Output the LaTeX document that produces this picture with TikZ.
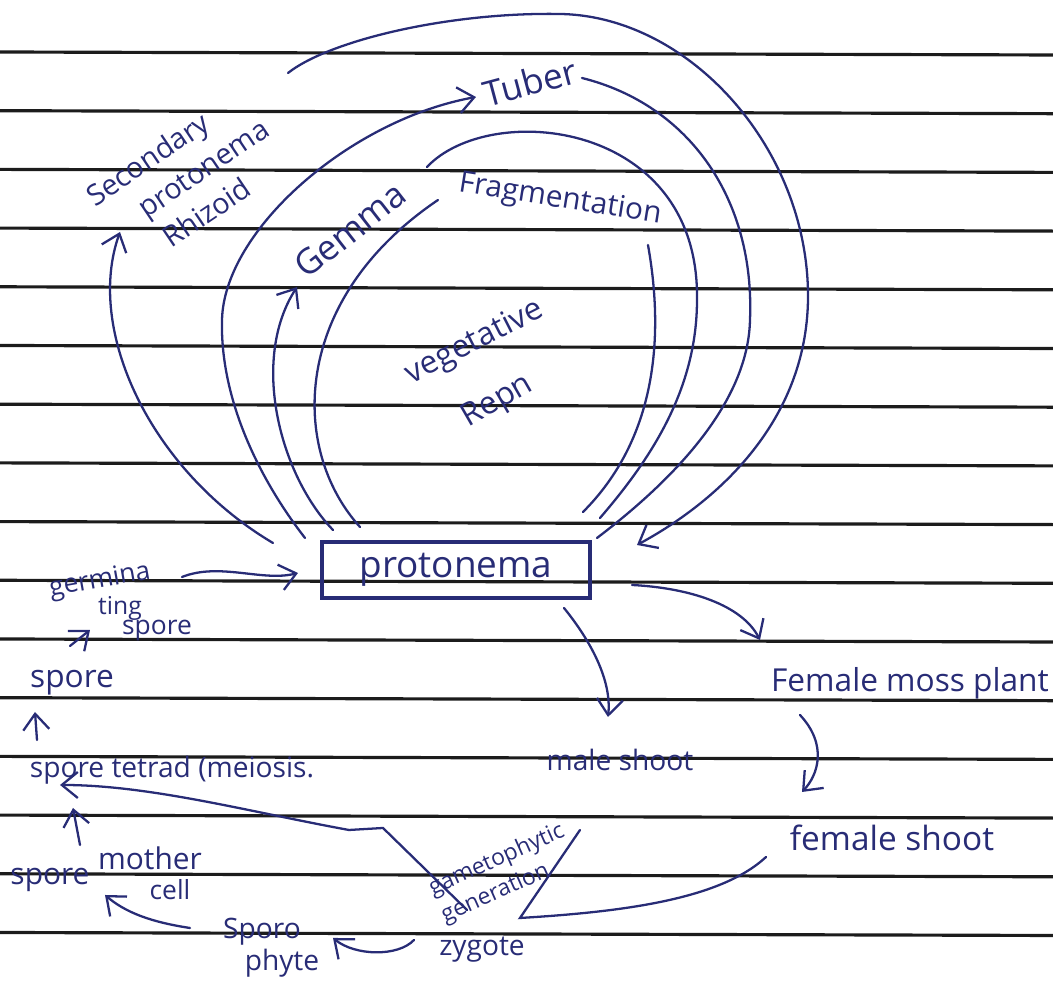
\documentclass[tikz,border=0pt]{standalone}
\usepackage{fontspec}
\setmainfont{Open Sans}
\usepackage{xcolor}
\usetikzlibrary{arrows.meta}
\definecolor{ink}{RGB}{40,44,118}
\definecolor{ruleblk}{RGB}{28,28,28}
\newcommand{\hsz}[1]{\fontsize{#1}{#1}\selectfont}

\begin{document}
\begin{tikzpicture}[x=0.01cm,y=-0.01cm,>={Straight Barb[length=1.6mm,width=2.6mm]},
  pen/.style={ink,line width=0.65pt,line cap=round},
  hw/.style={text=ink,inner sep=0pt}]
  \useasboundingbox (0,0) rectangle (1053,983);
  \foreach \k in {0,...,15}
    \draw[ruleblk,line width=0.9pt] (0,{52+58.7*\k}) -- (1053,{55+58.7*\k});

  \node[hw,draw=ink,line width=0.9pt,minimum width=2.68cm,minimum height=0.56cm] (proto) at (456,570) {\hsz{10.5}protonema};
  \node[hw,rotate=34,align=left,font=\fontsize{8.2}{11}\selectfont] (sec) at (188,178)
    {Secondary\\\hspace*{1.25em}protonema\\\hspace*{1.4em}Rhizoid};
  \node[hw,rotate=15] (tuber) at (530,82) {\hsz{10}Tuber};
  \node[hw,rotate=38] (gemma) at (350,230) {\hsz{10}Gemma};
  \node[hw,rotate=-9] (frag) at (560,200) {\hsz{8.5}Fragmentation};
  \node[hw,rotate=27] (veg) at (475,343) {\hsz{9}vegetative};
  \node[hw,rotate=30] (repn) at (498,402) {\hsz{9}Repn};

  \node[hw,rotate=10] (germa) at (100,581) {\hsz{7.5}germina};
  \node[hw] (germb) at (120,608) {\hsz{7}ting};
  \node[hw] (germc) at (157,630) {\hsz{7.5}spore};
  \node[hw] (spore) at (72,683) {\hsz{9}spore};
  \node[hw] (tetrad) at (172,770) {\hsz{8}spore tetrad (meiosis.};
  \node[hw] (smca) at (50,880) {\hsz{8.5}spore};
  \node[hw] (smcb) at (150,858) {\hsz{8.5}mother};
  \node[hw] (smcc) at (170,890) {\hsz{7.5}cell};
  \node[hw] (sporo) at (262,932) {\hsz{8}Sporo};
  \node[hw] (phyte) at (282,963) {\hsz{8}phyte};
  \node[hw] (zyg) at (482,950) {\hsz{8}zygote};
  \node[hw,rotate=24,align=left,font=\fontsize{6.5}{8.6}\selectfont] (gam) at (503,874)
    {gametophytic\\generation};
  \node[hw] (male) at (620,760) {\hsz{8}male shoot};
  \node[hw] (fmp) at (910,683) {\hsz{9}Female moss plant};
  \node[hw] (fshoot) at (892,838) {\hsz{9.5}female shoot};

  \coordinate (O0) at (288,73);  \coordinate (O1) at (560,14);
  \coordinate (O2) at (808,300); \coordinate (O3) at (637,545);
  \coordinate (T0) at (305,538); \coordinate (T1) at (222,320); \coordinate (T2) at (476,97);
  \coordinate (R0) at (582,78);  \coordinate (R1) at (750,320); \coordinate (R2) at (597,538);
  \coordinate (G0) at (333,530); \coordinate (G1) at (297,287);
  \coordinate (I0) at (427,167); \coordinate (I1) at (697,300); \coordinate (I2) at (600,518);
  \coordinate (F0) at (360,527); \coordinate (F1) at (438,200);
  \coordinate (F2) at (648,245); \coordinate (F3) at (583,512);
  \coordinate (S0) at (273,543); \coordinate (S1) at (120,232);

  \draw[pen,->] (O0) .. controls (330,40) and (450,12) .. (O1)
    .. controls (690,16) and (810,150) .. (O2) .. controls (806,420) and (720,500) .. (O3);
  \draw[pen,->] (T0) .. controls (260,480) and (220,400) .. (T1) .. controls (224,230) and (350,120) .. (T2);
  \draw[pen] (R0) .. controls (690,105) and (755,200) .. (R1) .. controls (748,410) and (660,490) .. (R2);
  \draw[pen,->] (G0) .. controls (280,475) and (250,360) .. (G1);
  \draw[pen] (I0) .. controls (490,100) and (700,120) .. (I1) .. controls (697,390) and (650,460) .. (I2);
  \draw[pen] (F0) .. controls (290,450) and (290,300) .. (F1);
  \draw[pen] (F2) .. controls (665,340) and (655,440) .. (F3);
  \draw[pen,->] (S0) .. controls (150,470) and (85,330) .. (S1);

  \coordinate (A0) at (182,577); \coordinate (A1) at (298,573);
  \coordinate (B0) at (70,646);  \coordinate (B1) at (90,630);
  \coordinate (U0) at (37,740);  \coordinate (U1) at (35,712);
  \coordinate (V0) at (80,845);  \coordinate (V1) at (73,808);
  \coordinate (W0) at (190,928); \coordinate (W1) at (105,895);
  \coordinate (Z0) at (414,940); \coordinate (Z1) at (333,938);
  \coordinate (K0) at (766,857); \coordinate (K1) at (520,918); \coordinate (K2) at (580,830);
  \coordinate (C0) at (467,910); \coordinate (C1) at (383,828);
  \coordinate (C2) at (349,830); \coordinate (C3) at (60,785);
  \coordinate (M0) at (564,608); \coordinate (M1) at (608,717);
  \coordinate (N0) at (632,585); \coordinate (N1) at (760,640);
  \coordinate (Q0) at (800,715); \coordinate (Q1) at (802,792);

  \draw[pen,->] (A0) .. controls (220,562) and (262,582) .. (A1);
  \draw[pen,->] (B0) -- (B1);
  \draw[pen,->] (U0) -- (U1);
  \draw[pen,->] (V0) -- (V1);
  \draw[pen,->] (W0) .. controls (150,922) and (125,912) .. (W1);
  \draw[pen,->] (Z0) .. controls (398,957) and (355,956) .. (Z1);
  \draw[pen] (K0) .. controls (720,900) and (620,912) .. (K1) -- (K2);
  \draw[pen,->] (C0) -- (C1) -- (C2) .. controls (250,812) and (150,785) .. (C3);
  \draw[pen,->] (M0) .. controls (590,640) and (612,680) .. (M1);
  \draw[pen,->] (N0) .. controls (690,588) and (742,605) .. (N1);
  \draw[pen,->] (Q0) .. controls (828,745) and (818,775) .. (Q1);
\end{tikzpicture}
\end{document}
